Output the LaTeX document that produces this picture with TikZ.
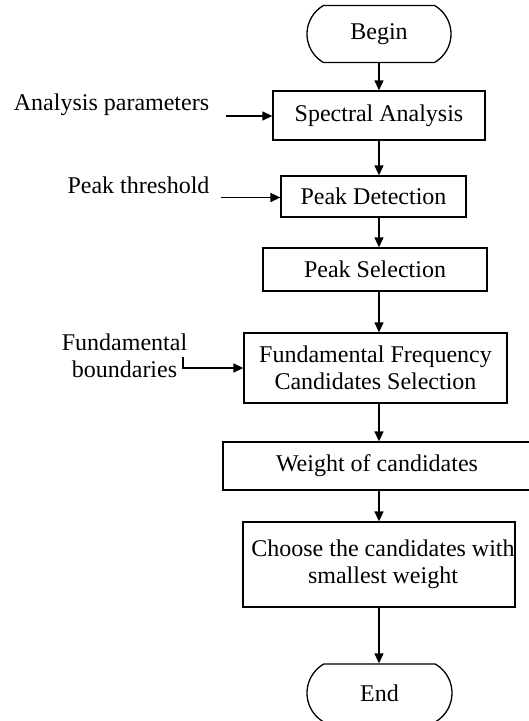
\documentclass[tikz,border=0pt]{standalone}
\usepackage{fontspec}
\setmainfont{Liberation Serif}
\usetikzlibrary{shapes.misc,arrows.meta}
\begin{document}
\begin{tikzpicture}[x=1pt,y=-1pt,line width=1.3pt,
  every node/.style={font=\fontsize{24}{27}\selectfont,inner sep=0pt,align=center},
  caja/.style={draw,rectangle},
  term/.style={draw,rounded rectangle,rounded rectangle arc length=120},
  flecha/.style={-{Triangle[length=10pt,width=9pt]}}]
  \useasboundingbox (0,0) rectangle (529,721);

  % Bloques
  \node[term,minimum width=144,minimum height=57] (begin) at (379,34) {Begin};
  \node[caja,minimum width=212,minimum height=49] (spec) at (379,115.5) {Spectral Analysis};
  \node[caja,minimum width=185,minimum height=41] (pd) at (373.5,196.5) {Peak Detection};
  \node[caja,minimum width=224,minimum height=43] (ps) at (375,269.5) {Peak Selection};
  \node[caja,minimum width=263,minimum height=70] (ffc) at (375.5,368) {Fundamental Frequency\\Candidates Selection};
  \node[caja,minimum width=308,minimum height=48] (wc) at (377,466) {Weight of candidates};
  \node[caja,minimum width=272,minimum height=85] (ch) at (379,564.5) {};
  \node (chtxt) at (383,564.5) {Choose the candidates with\\smallest weight};
  \node[term,minimum width=145,minimum height=58] (end) at (379.5,693) {End};

  % Entradas
  \node (ap) at (111.5,105) {Analysis parameters};
  \node (pt) at (138.5,185) {Peak threshold};
  \node (fb) at (124.5,356) {Fundamental\\boundaries};
  \coordinate (apk) at (226,116);
  \coordinate (ptk) at (221,197.5);
  \coordinate (fbk) at (183,357);

  % Flechas
  \foreach \from/\to in {begin/spec, spec/pd, pd/ps, ps/ffc, ffc/wc, wc/ch, ch/end}
    \draw[flecha] (\from.south -| begin) -- (\to.north -| begin);
  \draw[flecha] (apk) -- (apk -| spec.west);
  \draw[flecha] (ptk) -- (ptk -| pd.west);
  \draw[flecha] (fbk) |- (ffc.west);
\end{tikzpicture}
\end{document}
